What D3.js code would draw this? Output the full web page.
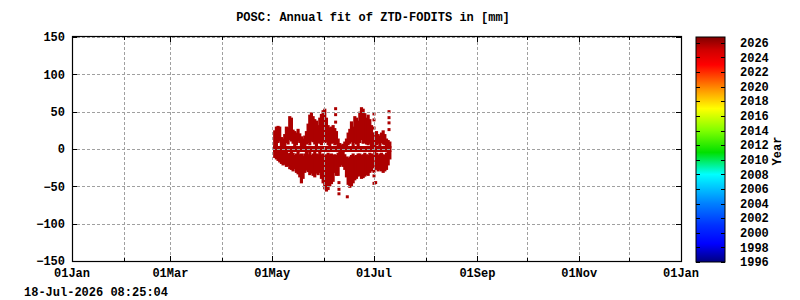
<!DOCTYPE html>
<html>
<head>
<meta charset="utf-8">
<script src="https://cdn.jsdelivr.net/npm/d3@7/dist/d3.min.js"></script>
<style>
  body { margin: 0; background: #fff; }
  text { font-family: "Liberation Mono", "DejaVu Sans Mono", monospace; font-weight: bold; font-size: 12px; fill: #000; }
</style>
</head>
<body>
<div id="chart"></div>
<script>
// Data (year 2026, day = days since 01Jan)
const dataYear = 2026;
const dayOfYear = [121,122,123,124,125,126,127,128,129,130,
                   131,132,133,134,135,136,137,138,139,140,
                   141,142,143,144,145,146,147,148,149,150,
                   151,152,153,154,155,156,157,158,159,160,
                   161,162,163,164,165,166,167,168,169,170,
                   171,172,173,174,175,176,177,178,179,180,
                   181,182,183,184,185,186,187,188,189,190];
// daily spread of the residuals [mm]: upper cloud (max / min) and lower cloud (max / min)
const upperMax = [23,28,29,28,14,12,18,28,27,42,
                  40,24,22,20,25,19,15,12,16,22,
                  32,44,47,42,38,36,30,40,45,50,
                  52,40,30,27,28,30,26,22,12,6,
                  4,5,8,12,20,25,35,28,42,40,
                  36,48,54,52,46,40,44,38,30,20,
                  10,22,18,16,20,23,18,12,10,8];
const upperMin = [3,6,10,12,6,4,5,10,8,14,
                  12,9,5,7,12,10,5,4,6,8,
                  10,7,12,11,8,6,10,9,7,12,
                  10,11,7,5,9,10,7,8,5,3,
                  2,2,3,5,7,9,11,6,10,8,
                  6,10,14,9,10,8,7,9,5,6,
                  4,7,9,6,10,8,7,5,4,3];
const lowerMax = [-2,-3,-5,-6,-4,-3,-5,-6,-8,-7,
                  -5,-7,-10,-8,-6,-9,-8,-11,-8,-6,
                  -9,-6,-10,-8,-6,-8,-9,-6,-9,-8,
                  -11,-9,-7,-9,-8,-10,-9,-10,-7,-5,
                  -5,-6,-9,-12,-14,-12,-10,-8,-11,-10,
                  -8,-8,-10,-9,-7,-9,-10,-7,-8,-10,
                  -5,-7,-10,-8,-7,-9,-10,-7,-5,-4];
const lowerMin = [-10,-12,-14,-16,-18,-20,-19,-22,-21,-25,
                  -26,-28,-25,-30,-32,-36,-44,-38,-30,-27,
                  -29,-33,-31,-34,-36,-31,-33,-30,-38,-44,
                  -52,-55,-53,-48,-45,-42,-30,-34,-34,-22,
                  -20,-22,-26,-36,-46,-50,-48,-44,-40,-38,
                  -35,-34,-38,-37,-35,-33,-34,-30,-28,-24,
                  -10,-26,-28,-26,-28,-30,-28,-26,-20,-12];
// isolated epochs
const outlierDay   = [158,158,158,160,160,160,165,181,181,181,181,181,181,181,181,182,190,190,190,190];
const outlierValue = [54,46,36,-45,-54,-60,-64,47,39,28,20,-19,-30,-36,-46,-45,50,42,35,26];

const yTicks = [-150,-100,-50,0,50,100,150];
const cbTicks = [1996,1998,2000,2002,2004,2006,2008,2010,2012,2014,2016,2018,2020,2022,2024,2026];
const cbStopYears  = [1996, 1998.5, 2001, 2004, 2008, 2011, 2014, 2017, 2019.5, 2023, 2025, 2026.8];
const cbStopColors = ["#000080","#0000ff","#0030ff","#0080ff","#00ffff","#00e000","#80ff00","#ffff00","#ff9900","#ff0000","#d00000","#800000"];

const titleText = "POSC: Annual fit of ZTD-FODITS in [mm]";
const stampText = "18-Jul-2026 08:25:04";
const pointColor = "#ac0000";

const svg = d3.select("#chart").append("svg")
    .attr("width", 800).attr("height", 300);

const plot = { left: 72, right: 681, top: 37, bottom: 261 };

const dayDate = d => new Date(Date.UTC(dataYear, 0, 1 + d));
const x = d3.scaleUtc()
    .domain([new Date(Date.UTC(dataYear, 0, 1)), new Date(Date.UTC(dataYear + 1, 0, 1))])
    .range([plot.left, plot.right]);
const y = d3.scaleLinear().domain([-150, 150]).range([plot.bottom, plot.top]);

const months = d3.utcMonth.range(x.domain()[0], d3.utcDay.offset(x.domain()[1], 1));

// Residual clouds
const pts = svg.append("g").attr("fill", pointColor);
const half = 1.5;   // half point size, vertical
const halfX = 0.75; // horizontal overlap between days
const days = dayOfYear.map((d, i) => ({ d, i }));
const dayX = e => x(dayDate(e.d)) - halfX;
const dayW = e => x(dayDate(e.d + 1)) - x(dayDate(e.d)) + 2 * halfX;
pts.selectAll(".up").data(days).join("rect")
    .attr("x", dayX).attr("width", dayW)
    .attr("y", e => y(upperMax[e.i]) - half)
    .attr("height", e => y(upperMin[e.i]) - y(upperMax[e.i]) + 2 * half);
pts.selectAll(".lo").data(days).join("rect")
    .attr("x", dayX).attr("width", dayW)
    .attr("y", e => y(lowerMax[e.i]) - half)
    .attr("height", e => y(lowerMin[e.i]) - y(lowerMax[e.i]) + 2 * half);
// zero fit band
pts.selectAll(".zero").data(days).join("rect")
    .attr("x", dayX).attr("width", dayW)
    .attr("y", y(0) - 3)
    .attr("height", 6);
pts.selectAll(".out").data(outlierDay.map((d, i) => ({ d, v: outlierValue[i] }))).join("rect")
    .attr("x", e => x(dayDate(e.d + 0.5)) - half)
    .attr("y", e => y(e.v) - half)
    .attr("width", 3).attr("height", 3);

// Grid (in front of the data)
const grid = svg.append("g").attr("stroke", "#a0a0a0").attr("stroke-dasharray", "3,2").attr("stroke-width", 1);
grid.selectAll(".gy").data(yTicks).join("line")
    .attr("x1", plot.left).attr("x2", plot.right)
    .attr("y1", d => Math.round(y(d)) + 0.5).attr("y2", d => Math.round(y(d)) + 0.5);
grid.selectAll(".gx").data(months).join("line")
    .attr("x1", d => Math.round(x(d)) + 0.5).attr("x2", d => Math.round(x(d)) + 0.5)
    .attr("y1", plot.top).attr("y2", plot.bottom);

// Frame and ticks
svg.append("rect")
    .attr("x", plot.left + 0.5).attr("y", plot.top - 0.5)
    .attr("width", plot.right - plot.left).attr("height", plot.bottom - plot.top + 1)
    .attr("fill", "none").attr("stroke", "#000").attr("stroke-width", 1.2);
const tk = svg.append("g").attr("stroke", "#000");
tk.selectAll(".tb").data(months).join("line")
    .attr("x1", d => Math.round(x(d)) + 0.5).attr("x2", d => Math.round(x(d)) + 0.5)
    .attr("y1", plot.bottom).attr("y2", (d, i) => plot.bottom - (i % 2 === 0 ? 5 : 3));
tk.selectAll(".tt").data(months).join("line")
    .attr("x1", d => Math.round(x(d)) + 0.5).attr("x2", d => Math.round(x(d)) + 0.5)
    .attr("y1", plot.top).attr("y2", (d, i) => plot.top + (i % 2 === 0 ? 5 : 3));
tk.selectAll(".tl").data(yTicks).join("line")
    .attr("x1", plot.left).attr("x2", plot.left + 5)
    .attr("y1", d => Math.round(y(d)) + 0.5).attr("y2", d => Math.round(y(d)) + 0.5);
tk.selectAll(".tr").data(yTicks).join("line")
    .attr("x1", plot.right - 5).attr("x2", plot.right)
    .attr("y1", d => Math.round(y(d)) + 0.5).attr("y2", d => Math.round(y(d)) + 0.5);

// Tick labels
const fmtMonth = d3.utcFormat("%d%b");
svg.append("g").selectAll("text").data(months.filter((d, i) => i % 2 === 0)).join("text")
    .attr("x", d => x(d)).attr("y", 277)
    .attr("text-anchor", "middle")
    .text(d => fmtMonth(d));
const fmtY = d3.format("d");
svg.append("g").selectAll("text").data(yTicks).join("text")
    .attr("x", 65).attr("y", d => y(d)).attr("dy", "0.35em")
    .attr("text-anchor", "end")
    .text(d => fmtY(d));

// Title and time stamp
svg.append("text").attr("x", 373).attr("y", 21).attr("text-anchor", "middle").text(titleText);
svg.append("text").attr("x", 24).attr("y", 296).text(stampText);

// Colour bar
const cb = { left: 696, right: 725, top: 37, bottom: 262 };
const cbY = d3.scaleLinear().domain([1996, 2026.8]).range([cb.bottom, cb.top]);
const grad = svg.append("defs").append("linearGradient")
    .attr("id", "cbgrad").attr("x1", "0%").attr("x2", "0%").attr("y1", "100%").attr("y2", "0%");
grad.selectAll("stop").data(cbStopYears).join("stop")
    .attr("offset", d => ((cb.bottom - cbY(d)) / (cb.bottom - cb.top) * 100) + "%")
    .attr("stop-color", (d, i) => cbStopColors[i]);
svg.append("rect")
    .attr("x", cb.left).attr("y", cb.top)
    .attr("width", cb.right - cb.left).attr("height", cb.bottom - cb.top)
    .attr("fill", "url(#cbgrad)").attr("stroke", "#000").attr("stroke-width", 1);
const cbt = svg.append("g").attr("stroke", "#000");
cbt.selectAll(".cl").data(cbTicks).join("line")
    .attr("x1", cb.left).attr("x2", cb.left + 4)
    .attr("y1", d => Math.round(cbY(d)) + 0.5).attr("y2", d => Math.round(cbY(d)) + 0.5);
cbt.selectAll(".cr").data(cbTicks).join("line")
    .attr("x1", cb.right - 4).attr("x2", cb.right)
    .attr("y1", d => Math.round(cbY(d)) + 0.5).attr("y2", d => Math.round(cbY(d)) + 0.5);
svg.append("g").selectAll("text").data(cbTicks).join("text")
    .attr("x", 740).attr("y", d => cbY(d)).attr("dy", "0.35em")
    .text(d => d);
svg.append("text")
    .attr("transform", "translate(777,151) rotate(-90)")
    .attr("text-anchor", "middle").attr("dy", "0.35em")
    .text("Year");
</script>
</body>
</html>
